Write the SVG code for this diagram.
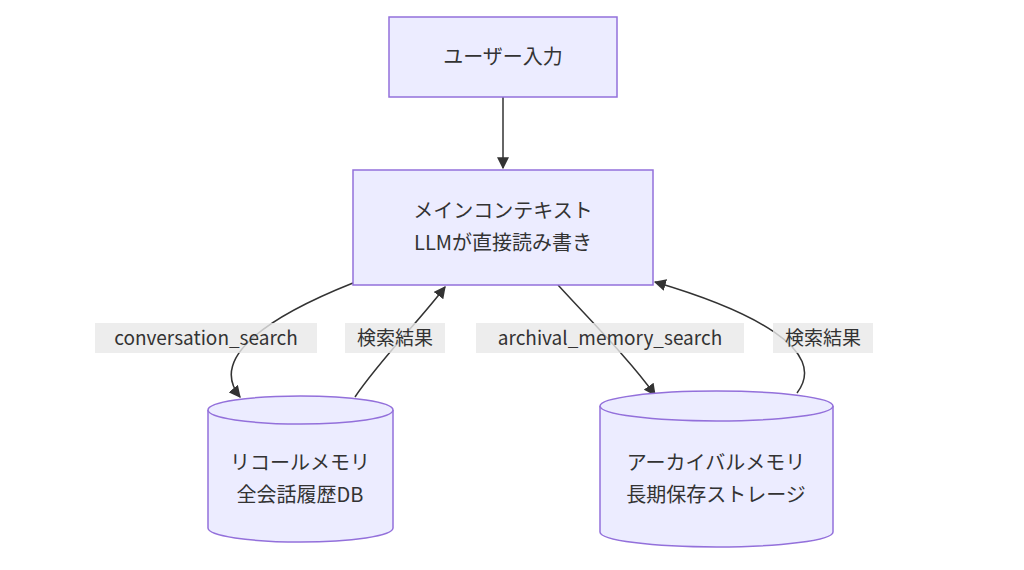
<svg xmlns="http://www.w3.org/2000/svg" width="1024" height="570" viewBox="0 0 1024 570">
<style>
.n{fill:#ECECFF;stroke:#9370DB;stroke-width:1.5}
.t{font-family:"Noto Sans CJK JP","Noto Sans",sans-serif;font-size:20px;fill:#333;text-anchor:middle}
.e{fill:none;stroke:#333;stroke-width:1.5}
.lb{fill:#e8e8e8;opacity:0.8}
.l{font-family:"Noto Sans CJK JP","Noto Sans",sans-serif;font-size:19px;fill:#333;text-anchor:middle}
</style>
<defs><marker id="a" viewBox="0 0 10 10" refX="9" refY="5" markerWidth="8" markerHeight="8" orient="auto"><path d="M0,0L10,5L0,10z" fill="#333"/></marker></defs>
<rect width="1024" height="570" fill="#fff"/>
<g id="edges">
<path class="e" d="M503,97L503,168" marker-end="url(#a)"/>
<path class="e" d="M353,283C260,320 210,360 240,397" marker-end="url(#a)"/>
<path class="e" d="M355,397C380,360 420,320 445,287" marker-end="url(#a)"/>
<path class="e" d="M558,285C590,320 630,360 655,395" marker-end="url(#a)"/>
<path class="e" d="M797,393C830,350 750,310 655,282" marker-end="url(#a)"/>
<rect class="lb" x="95" y="323" width="222" height="30"/><text class="l" x="206" y="345">conversation_search</text>
<rect class="lb" x="345" y="323" width="100" height="30"/><text class="l" x="395" y="345">検索結果</text>
<rect class="lb" x="476" y="323" width="268" height="30"/><text class="l" x="610" y="345">archival_memory_search</text>
<rect class="lb" x="773" y="323" width="100" height="30"/><text class="l" x="823" y="345">検索結果</text>
</g>
<g id="user"><rect class="n" x="389" y="17" width="228" height="80"/><text class="t" x="503" y="64">ユーザー入力</text></g>
<g id="main"><rect class="n" x="353" y="170" width="300" height="115"/><text class="t" x="503" y="218">メインコンテキスト</text><text class="t" x="503" y="250">LLMが直接読み書き</text></g>
<g id="recall"><path class="n" d="M208,410A92.5,14 0 0 1 393,410L393,528A92.5,14 0 0 1 208,528Z"/><path class="n" fill="none" d="M208,410A92.5,14 0 0 0 393,410"/><text class="t" x="300" y="470">リコールメモリ</text><text class="t" x="300" y="502">全会話履歴DB</text></g>
<g id="archival"><path class="n" d="M600,406A116.5,15 0 0 1 833,406L833,532A116.5,15 0 0 1 600,532Z"/><path class="n" fill="none" d="M600,406A116.5,15 0 0 0 833,406"/><text class="t" x="716" y="470">アーカイバルメモリ</text><text class="t" x="716" y="502">長期保存ストレージ</text></g>
</svg>
